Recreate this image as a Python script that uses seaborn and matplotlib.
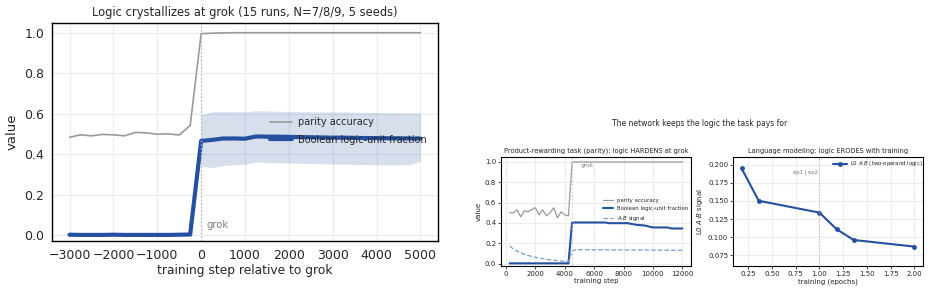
import numpy as np
import matplotlib
matplotlib.use("Agg")
import matplotlib.pyplot as plt
import seaborn as sns

# ---- left panel: aligned on the grok step ----
rel_step = np.arange(-3000, 5001, 250)
parity_acc = [0.484, 0.496, 0.491, 0.498, 0.496, 0.491, 0.508, 0.506, 0.499, 0.501, 0.495, 0.542,
              0.995, 0.998, 0.999, 1.0, 1.0, 1.0, 1.0, 1.0, 1.0, 1.0, 1.0, 1.0, 1.0, 1.0, 1.0, 1.0,
              1.0, 1.0, 1.0, 1.0, 1.0]
logic_frac = [0.003, 0.002, 0.002, 0.002, 0.003, 0.002, 0.002, 0.002, 0.002, 0.002, 0.003, 0.004,
              0.466, 0.471, 0.478, 0.478, 0.477, 0.488, 0.487, 0.487, 0.486, 0.485, 0.484, 0.483,
              0.482, 0.482, 0.481, 0.480, 0.480, 0.479, 0.479, 0.478, 0.478]
nan = float("nan")
logic_hi = [nan] * 12 + [0.594, 0.610, 0.611, 0.610, 0.610, 0.615, 0.614, 0.612, 0.611, 0.610, 0.610,
                         0.609, 0.609, 0.609, 0.608, 0.607, 0.606, 0.605, 0.604, 0.603, 0.605]
logic_lo = [nan] * 12 + [0.342, 0.334, 0.345, 0.348, 0.350, 0.362, 0.360, 0.358, 0.357, 0.356, 0.354,
                         0.353, 0.352, 0.351, 0.350, 0.349, 0.348, 0.347, 0.347, 0.348, 0.367]

# ---- middle panel: parity task, single run ----
step = np.arange(250, 12001, 250)
par_acc = [0.50, 0.50, 0.53, 0.46, 0.52, 0.51, 0.53, 0.55, 0.48, 0.53, 0.47, 0.50, 0.55, 0.45, 0.51,
           0.48, 0.47] + [1.0] * 31
par_logic = [0.003] * 17 + [0.405] * 10 + [0.398] * 6 + [0.392, 0.385, 0.380, 0.378, 0.374, 0.364] \
            + [0.356] * 5 + [0.346] * 4
par_ab = [0.172, 0.145, 0.124, 0.107, 0.093, 0.081, 0.071, 0.062, 0.055, 0.049, 0.043, 0.038, 0.034,
          0.030, 0.026, 0.023, 0.020,
          0.127, 0.136, 0.137, 0.137, 0.137, 0.137, 0.136, 0.136, 0.136, 0.136, 0.136, 0.135, 0.135,
          0.135, 0.135, 0.135, 0.134, 0.134, 0.134, 0.134, 0.134, 0.133, 0.133, 0.133, 0.133, 0.133,
          0.132, 0.132, 0.132, 0.132, 0.132]

# ---- right panel: language modeling ----
epochs = [0.18, 0.36, 1.0, 1.18, 1.36, 2.0]
lm_ab = [0.1946, 0.1502, 0.1339, 0.1112, 0.0963, 0.0872]

BLUE = "#2350a0"
LIGHT = "#7b9bd6"
GRAY = "#9a9a9a"

sns.set_style("whitegrid", {"axes.edgecolor": "black", "grid.color": "#ececec"})
plt.rcParams['font.family'] = ['DejaVu Sans']

fig = plt.figure(figsize=(9.31, 2.94), dpi=100)

# left
ax = fig.add_axes([52 / 931, 1 - 241 / 294, 386 / 931, 218 / 294])
ax.fill_between(rel_step, logic_lo, logic_hi, color=BLUE, alpha=0.18, lw=0)
sns.lineplot(x=rel_step, y=parity_acc, ax=ax, color=GRAY, lw=1.2, label="parity accuracy")
sns.lineplot(x=rel_step, y=logic_frac, ax=ax, color=BLUE, lw=3, label="Boolean logic-unit fraction")
ax.axvline(0, color="#bbbbbb", ls=":", lw=1)
ax.text(130, 0.035, "grok", color="gray", fontsize=7.3)
ax.set_ylim(-0.028, 1.048)
ax.set_yticks([0.0, 0.2, 0.4, 0.6, 0.8, 1.0])
ax.set_xticks(np.arange(-3000, 5001, 1000))
ax.tick_params(labelsize=9, pad=2)
ax.set_xlabel("training step relative to grok", fontsize=8.8, labelpad=2)
ax.set_ylabel("value", fontsize=9.5)
ax.set_title("Logic crystallizes at grok (15 runs, N=7/8/9, 5 seeds)", fontsize=8.3, pad=5)
for s in ax.spines.values():
    s.set_linewidth(1.0)
ax.legend(loc="center left", bbox_to_anchor=(0.565, 0.505), frameon=False, fontsize=7,
          borderpad=0, borderaxespad=0, handlelength=2.3, handletextpad=0.6, labelspacing=0.75)

fig.text(0.7513, 1 - 124 / 294, "The network keeps the logic the task pays for",
         ha="center", va="center", fontsize=5.5)

# middle
ax2 = fig.add_axes([501 / 931, 28 / 294, 190 / 931, 109 / 294])
sns.lineplot(x=step, y=par_acc, ax=ax2, color=GRAY, lw=0.9, label="parity accuracy")
sns.lineplot(x=step, y=par_logic, ax=ax2, color=BLUE, lw=1.5, label="Boolean logic-unit fraction")
sns.lineplot(x=step, y=par_ab, ax=ax2, color=LIGHT, lw=0.9, ls="--", label="$A{\\cdot}B$ signal")
ax2.axvline(4500, color="#cccccc", ls=":", lw=1)
ax2.text(5100, 0.95, "grok", color="gray", fontsize=4.2)
ax2.set_ylim(-0.023, 1.049)
ax2.set_yticks([0.0, 0.2, 0.4, 0.6, 0.8, 1.0])
ax2.set_xticks(np.arange(0, 12001, 2000))
ax2.tick_params(labelsize=5, pad=1.5, left=True, bottom=True, length=2, width=0.6)
ax2.set_xlabel("training step", fontsize=5, labelpad=1)
ax2.set_ylabel("value", fontsize=5, labelpad=2)
ax2.set_title("Product-rewarding task (parity): logic HARDENS at grok", fontsize=4.8, pad=3)
for s in ax2.spines.values():
    s.set_linewidth(0.8)
ax2.legend(loc="center left", bbox_to_anchor=(0.535, 0.511), frameon=False, fontsize=3.9,
           borderpad=0, borderaxespad=0, handlelength=1.9, handletextpad=0.7, labelspacing=0.55)

# right
ax3 = fig.add_axes([733 / 931, 28 / 294, 190 / 931, 109 / 294])
sns.lineplot(x=epochs, y=lm_ab, ax=ax3, color=BLUE, lw=1.5, marker="o", markersize=3.5,
             markeredgewidth=0, label="L0 $A{\\cdot}B$ (two-operand logic)")
ax3.axvline(1.0, color="#bbbbbb", ls=":", lw=0.8)
ax3.text(0.985, 0.1895, "ep1 | ep2", color="gray", fontsize=3.8, ha="right", va="center")
ax3.set_ylim(0.0605, 0.2104)
ax3.set_yticks([0.075, 0.100, 0.125, 0.150, 0.175, 0.200])
ax3.set_xticks([0.25, 0.5, 0.75, 1.0, 1.25, 1.5, 1.75, 2.0])
ax3.tick_params(labelsize=5, pad=1.5, left=True, bottom=True, length=2, width=0.6)
ax3.set_xlabel("training (epochs)", fontsize=5, labelpad=1)
ax3.set_ylabel("L0 $A{\\cdot}B$ signal", fontsize=5, labelpad=2)
ax3.set_title("Language modeling: logic ERODES with training", fontsize=4.8, pad=3)
for s in ax3.spines.values():
    s.set_linewidth(0.8)
ax3.legend(loc="center left", bbox_to_anchor=(0.524, 0.936), frameon=False, fontsize=3.9,
           borderpad=0, borderaxespad=0, handlelength=2.6, handletextpad=0.6)

fig.savefig("out.png", dpi=100)
